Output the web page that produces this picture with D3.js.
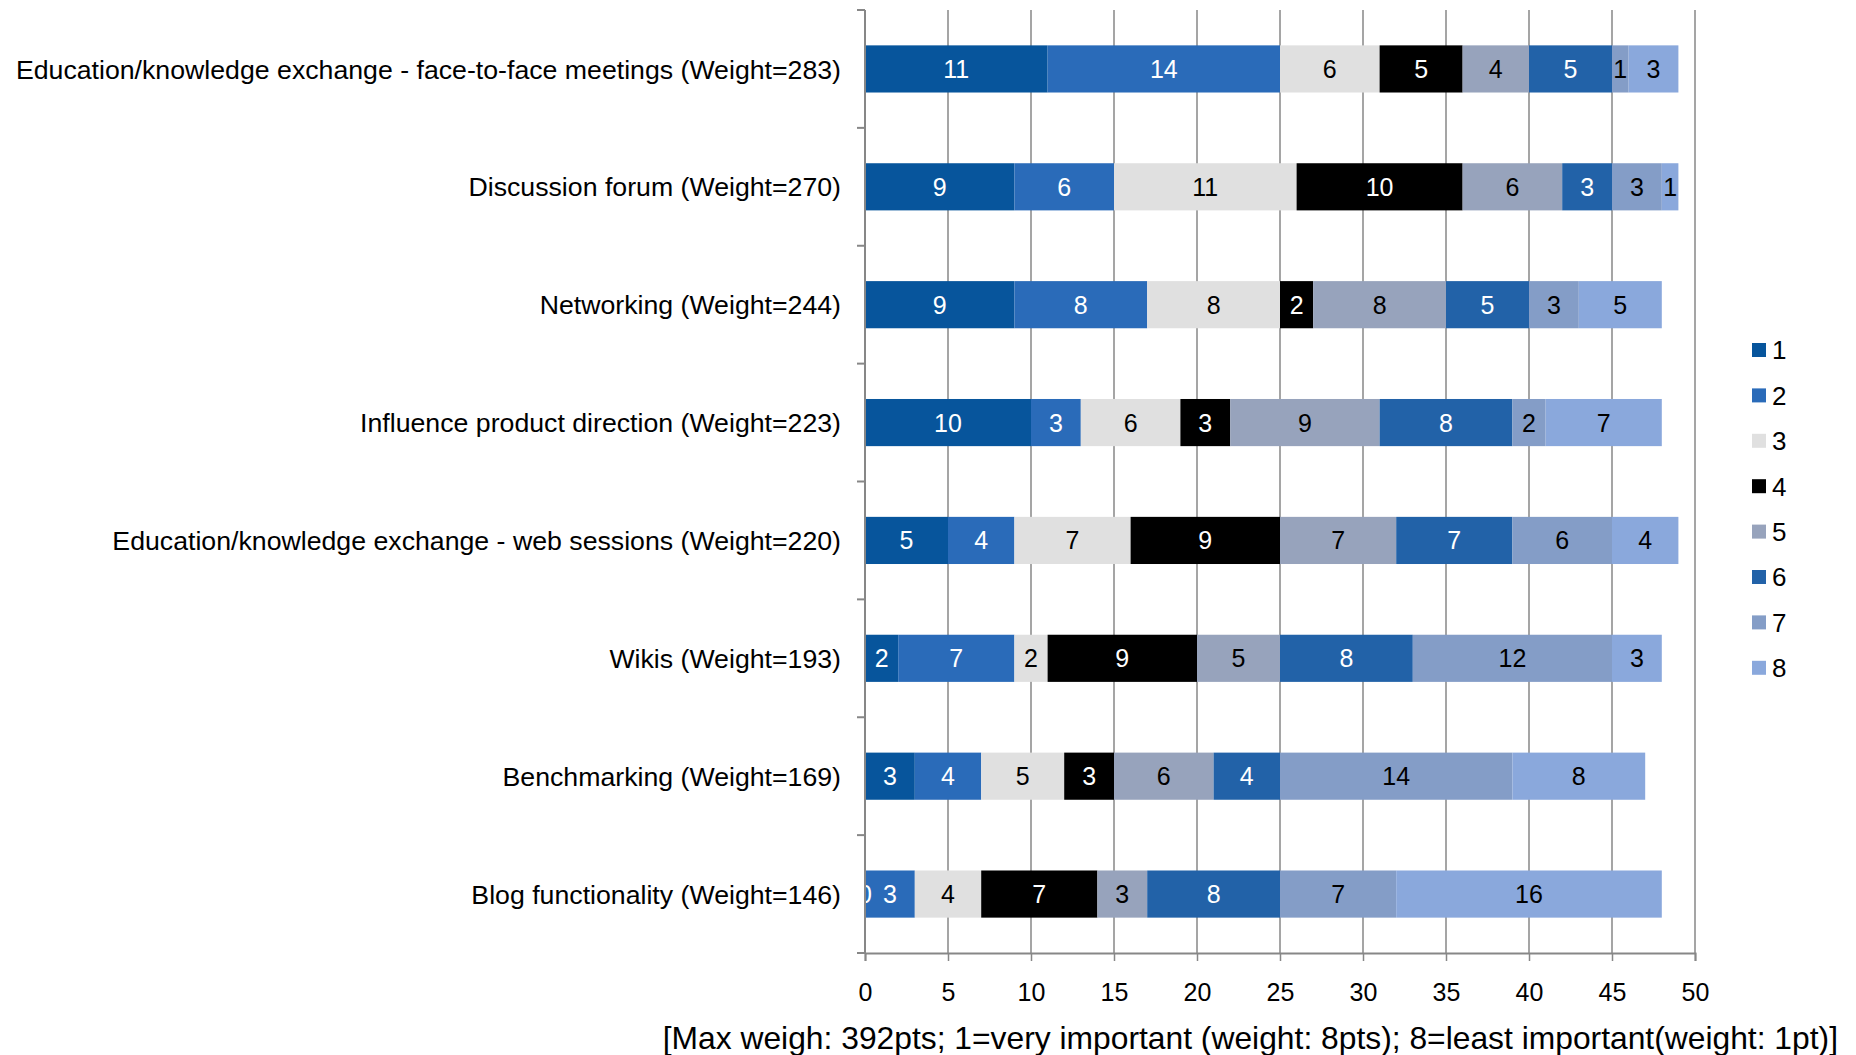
<!DOCTYPE html>
<html>
<head>
<meta charset="utf-8">
<script src="https://cdn.jsdelivr.net/npm/d3@7"></script>
<style>
  html, body { margin: 0; padding: 0; background: #fff; }
  text { font-family: "Liberation Sans", Arial, sans-serif; }
</style>
</head>
<body>
<div id="chart"></div>
<script>
const categories = [
    "Education/knowledge exchange - face-to-face meetings (Weight=283)",
    "Discussion forum (Weight=270)",
    "Networking (Weight=244)",
    "Influence product direction (Weight=223)",
    "Education/knowledge exchange - web sessions (Weight=220)",
    "Wikis (Weight=193)",
    "Benchmarking (Weight=169)",
    "Blog functionality (Weight=146)"
];
const seriesNames = ["1", "2", "3", "4", "5", "6", "7", "8"];
// one array per rank, one value per category
const rank1 = [11, 9, 9, 10, 5, 2, 3, 0];
const rank2 = [14, 6, 8, 3, 4, 7, 4, 3];
const rank3 = [6, 11, 8, 6, 7, 2, 5, 4];
const rank4 = [5, 10, 2, 3, 9, 9, 3, 7];
const rank5 = [4, 6, 8, 9, 7, 5, 6, 3];
const rank6 = [5, 3, 5, 8, 7, 8, 4, 8];
const rank7 = [1, 3, 3, 2, 6, 12, 14, 7];
const rank8 = [3, 1, 5, 7, 4, 3, 8, 16];
const xTicks = [0, 5, 10, 15, 20, 25, 30, 35, 40, 45, 50];
const footnote = "[Max weigh: 392pts; 1=very important (weight: 8pts); 8=least important(weight: 1pt)]";

const colors = ["#07559c", "#2a6bb9", "#e0e0e0", "#000000", "#97a3bc", "#2262a8", "#849dc7", "#8aa8dc"];
const labelColors = ["#fff", "#fff", "#000", "#fff", "#000", "#fff", "#000", "#000"];

const width = 1856, height = 1055;
const margin = { left: 865, right: 161, top: 10, bottom: 102 };

const series = [rank1, rank2, rank3, rank4, rank5, rank6, rank7, rank8];
const rows = categories.map((c, i) => {
    const r = { cat: c };
    seriesNames.forEach((s, j) => { r[s] = series[j][i]; });
    return r;
});
const stacked = d3.stack().keys(seriesNames)(rows);

const svg = d3.select("#chart").append("svg")
    .attr("width", width)
    .attr("height", height);

const x = d3.scaleLinear().domain([0, 50]).range([margin.left, width - margin.right]);
const y = d3.scaleBand().domain(categories).range([margin.top, height - margin.bottom]).paddingInner(0.6).paddingOuter(0.3);
const yb = d3.scaleBand().domain(categories).range([margin.top, height - margin.bottom]);

// gridlines
svg.append("g").selectAll("line").data(xTicks.slice(1)).join("line")
    .attr("x1", d => x(d)).attr("x2", d => x(d))
    .attr("y1", margin.top).attr("y2", height - margin.bottom)
    .attr("stroke", "#878787").attr("stroke-width", 1.5);

svg.append("defs").append("clipPath").attr("id", "plotclip")
    .append("rect").attr("x", margin.left).attr("y", 0)
    .attr("width", width - margin.right - margin.left).attr("height", height);

// bars
const layers = svg.append("g").selectAll("g").data(stacked).join("g")
    .attr("fill", (d, i) => colors[i]);
layers.selectAll("rect").data(d => d).join("rect")
    .attr("x", d => x(d[0]))
    .attr("width", d => x(d[1]) - x(d[0]))
    .attr("y", d => y(d.data.cat))
    .attr("height", y.bandwidth());

// value labels
const labels = svg.append("g").attr("clip-path", "url(#plotclip)");
stacked.forEach((layer, i) => {
    labels.selectAll(null).data(layer).join("text")
        .attr("x", d => (x(d[0]) + x(d[1])) / 2)
        .attr("y", d => y(d.data.cat) + y.bandwidth() / 2)
        .attr("dy", "0.36em")
        .attr("text-anchor", "middle")
        .attr("font-size", 25)
        .attr("fill", labelColors[i])
        .text(d => d[1] - d[0]);
});

// y axis
const yAxis = svg.append("g");
yAxis.append("line")
    .attr("x1", margin.left).attr("x2", margin.left)
    .attr("y1", margin.top).attr("y2", height - margin.bottom)
    .attr("stroke", "#878787").attr("stroke-width", 2);
yAxis.selectAll("line.tick").data(categories.concat(["end"])).join("line")
    .attr("class", "tick")
    .attr("x1", margin.left - 8).attr("x2", margin.left)
    .attr("y1", (d, i) => i < categories.length ? yb(d) : height - margin.bottom)
    .attr("y2", (d, i) => i < categories.length ? yb(d) : height - margin.bottom)
    .attr("stroke", "#878787").attr("stroke-width", 2);
yAxis.selectAll("text").data(categories).join("text")
    .attr("x", margin.left - 24)
    .attr("y", d => y(d) + y.bandwidth() / 2)
    .attr("dy", "0.36em")
    .attr("text-anchor", "end")
    .attr("font-size", 26.7)
    .attr("fill", "#000")
    .text(d => d);

// x axis
const xAxis = svg.append("g").attr("transform", `translate(0,${height - margin.bottom})`)
    .call(d3.axisBottom(x).tickValues(xTicks).tickSize(8).tickPadding(22));
xAxis.select(".domain").attr("stroke", "#878787").attr("stroke-width", 2);
xAxis.selectAll(".tick line").attr("stroke", "#878787").attr("stroke-width", 1.5);
xAxis.selectAll(".tick text")
    .attr("font-family", "Liberation Sans, Arial, sans-serif")
    .attr("font-size", 25).attr("fill", "#000");

svg.append("text")
    .attr("x", 1838).attr("y", 1049)
    .attr("text-anchor", "end")
    .attr("font-size", 31.8)
    .attr("fill", "#000")
    .text(footnote);

// legend
const legend = svg.append("g").selectAll("g").data(seriesNames).join("g")
    .attr("transform", (d, i) => `translate(1752,${350 + i * 45.4})`);
legend.append("rect")
    .attr("x", 0).attr("y", -7).attr("width", 14).attr("height", 14)
    .attr("fill", (d, i) => colors[i]);
legend.append("text")
    .attr("x", 20).attr("y", 0).attr("dy", "0.36em")
    .attr("font-size", 26)
    .attr("fill", "#000")
    .text(d => d);
</script>
</body>
</html>
